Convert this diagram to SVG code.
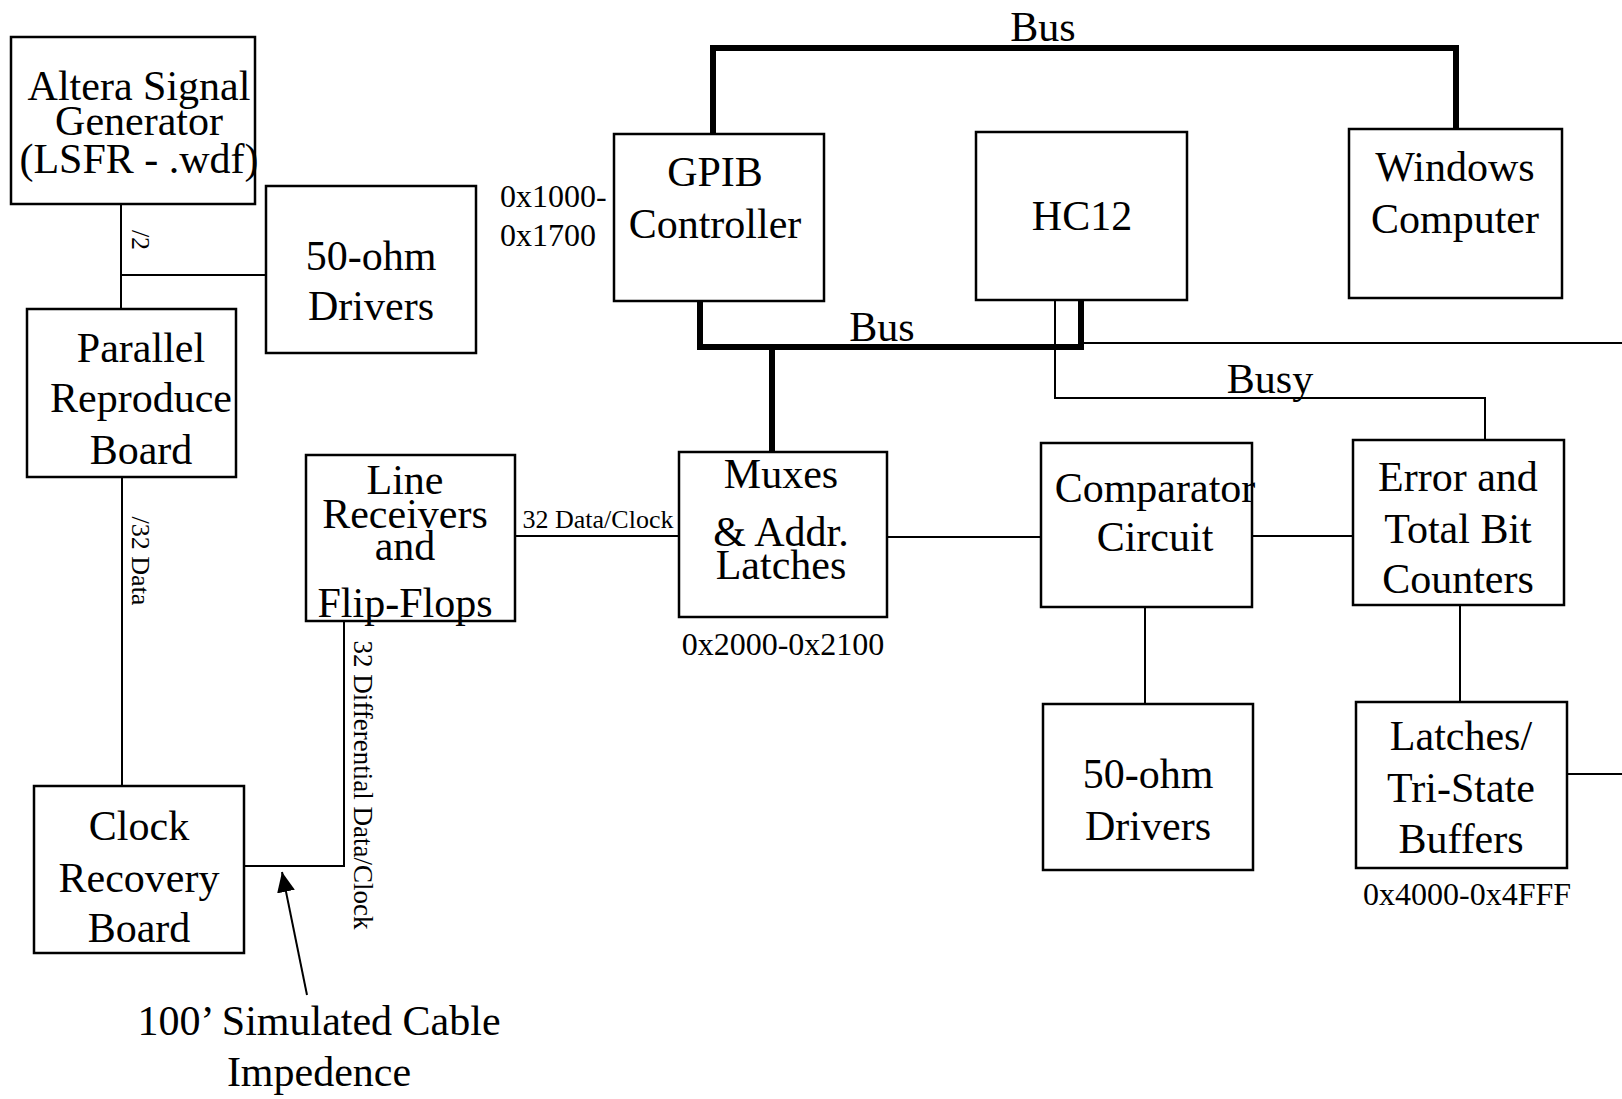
<svg xmlns="http://www.w3.org/2000/svg" width="1622" height="1099" viewBox="0 0 1622 1099">
<style>
.box{fill:#fff;stroke:#000;stroke-width:2.5}
.t{font-family:"Liberation Serif","Times New Roman",serif;font-size:42px;text-anchor:middle;fill:#000}
.sm{font-size:32px}
.xs{font-size:26px}
.thin{stroke:#000;stroke-width:2;fill:none}
.bus{stroke:#000;stroke-width:6;fill:none;stroke-linejoin:miter;stroke-linecap:square}
</style>
<defs>
<marker id="ah" viewBox="0 0 20 18" refX="20" refY="9" markerWidth="20" markerHeight="18" markerUnits="userSpaceOnUse" orient="auto">
<path d="M0,0 L20,9 L0,18 Z" fill="#000"/>
</marker>
</defs>
<rect width="1622" height="1099" fill="#fff"/>
<g id="connectors">
<polyline class="thin" points="121,204 121,309"/>
<polyline class="thin" points="121,275 266,275"/>
<polyline class="thin" points="122,477 122,786"/>
<polyline class="thin" points="244,866 344,866 344,621"/>
<polyline class="thin" points="515,536 679,536"/>
<polyline class="thin" points="887,537 1041,537"/>
<polyline class="thin" points="1252,536 1353,536"/>
<polyline class="thin" points="1145,607 1145,704"/>
<polyline class="thin" points="1460,605 1460,702"/>
<polyline class="thin" points="1567,774 1622,774"/>
<polyline class="thin" points="1081,343 1622,343"/>
<polyline class="thin" points="1055,300 1055,398 1485,398 1485,440"/>
<polyline class="bus" points="713,134 713,48 1456,48 1456,129"/>
<polyline class="bus" points="700,301 700,347 1081,347 1081,300"/>
<polyline class="bus" points="772,347 772,452"/>
<line class="thin" x1="307" y1="995" x2="282" y2="872" marker-end="url(#ah)"/>
<text class="t xs" transform="translate(132,240) rotate(90)">/2</text>
<text class="t xs" transform="translate(132,561) rotate(90)">/32 Data</text>
<text class="t xs" transform="translate(354,785) rotate(90)" style="font-size:27px">32 Differential Data/Clock</text>
<text class="t xs" x="598" y="528">32 Data/Clock</text>
<text class="t" x="1043" y="41">Bus</text>
<text class="t" x="882" y="341">Bus</text>
<text class="t" x="1270" y="393">Busy</text>
<text class="t" x="319" y="1035">100’ Simulated Cable</text>
<text class="t" x="319" y="1086">Impedence</text>
</g>
<g id="altera">
<rect class="box" x="11" y="37" width="244" height="167"/>
<text class="t" x="139" y="100">Altera Signal</text>
<text class="t" x="139" y="135">Generator</text>
<text class="t" x="139" y="173">(LSFR - .wdf)</text>
</g>
<g id="drivers1">
<rect class="box" x="266" y="186" width="210" height="167"/>
<text class="t" x="371" y="270">50-ohm</text>
<text class="t" x="371" y="320">Drivers</text>
</g>
<g id="parallel">
<rect class="box" x="27" y="309" width="209" height="168"/>
<text class="t" x="141" y="362">Parallel</text>
<text class="t" x="141" y="412">Reproduce</text>
<text class="t" x="141" y="464">Board</text>
</g>
<g id="linereceivers">
<rect class="box" x="306" y="455" width="209" height="166"/>
<text class="t" x="405" y="494">Line</text>
<text class="t" x="405" y="528">Receivers</text>
<text class="t" x="405" y="560">and</text>
<text class="t" x="405" y="617">Flip-Flops</text>
</g>
<g id="clock">
<rect class="box" x="34" y="786" width="210" height="167"/>
<text class="t" x="139" y="840">Clock</text>
<text class="t" x="139" y="892">Recovery</text>
<text class="t" x="139" y="942">Board</text>
</g>
<g id="gpib">
<rect class="box" x="614" y="134" width="210" height="167"/>
<text class="t" x="715" y="186">GPIB</text>
<text class="t" x="715" y="238">Controller</text>
<text class="t sm" x="500" y="207" style="text-anchor:start">0x1000-</text>
<text class="t sm" x="500" y="246" style="text-anchor:start">0x1700</text>
</g>
<g id="hc12">
<rect class="box" x="976" y="132" width="211" height="168"/>
<text class="t" x="1082" y="230">HC12</text>
</g>
<g id="windows">
<rect class="box" x="1349" y="129" width="213" height="169"/>
<text class="t" x="1455" y="181">Windows</text>
<text class="t" x="1455" y="233">Computer</text>
</g>
<g id="muxes">
<rect class="box" x="679" y="452" width="208" height="165"/>
<text class="t" x="781" y="488">Muxes</text>
<text class="t" x="781" y="546">&amp; Addr.</text>
<text class="t" x="781" y="579">Latches</text>
<text class="t sm" x="783" y="655">0x2000-0x2100</text>
</g>
<g id="comparator">
<rect class="box" x="1041" y="443" width="211" height="164"/>
<text class="t" x="1155" y="502">Comparator</text>
<text class="t" x="1155" y="551">Circuit</text>
</g>
<g id="counters">
<rect class="box" x="1353" y="440" width="211" height="165"/>
<text class="t" x="1458" y="491">Error and</text>
<text class="t" x="1458" y="543">Total Bit</text>
<text class="t" x="1458" y="593">Counters</text>
</g>
<g id="drivers2">
<rect class="box" x="1043" y="704" width="210" height="166"/>
<text class="t" x="1148" y="788">50-ohm</text>
<text class="t" x="1148" y="840">Drivers</text>
</g>
<g id="latches">
<rect class="box" x="1356" y="702" width="211" height="166"/>
<text class="t" x="1461" y="750">Latches/</text>
<text class="t" x="1461" y="802">Tri-State</text>
<text class="t" x="1461" y="853">Buffers</text>
<text class="t sm" x="1467" y="905">0x4000-0x4FFF</text>
</g>
</svg>
